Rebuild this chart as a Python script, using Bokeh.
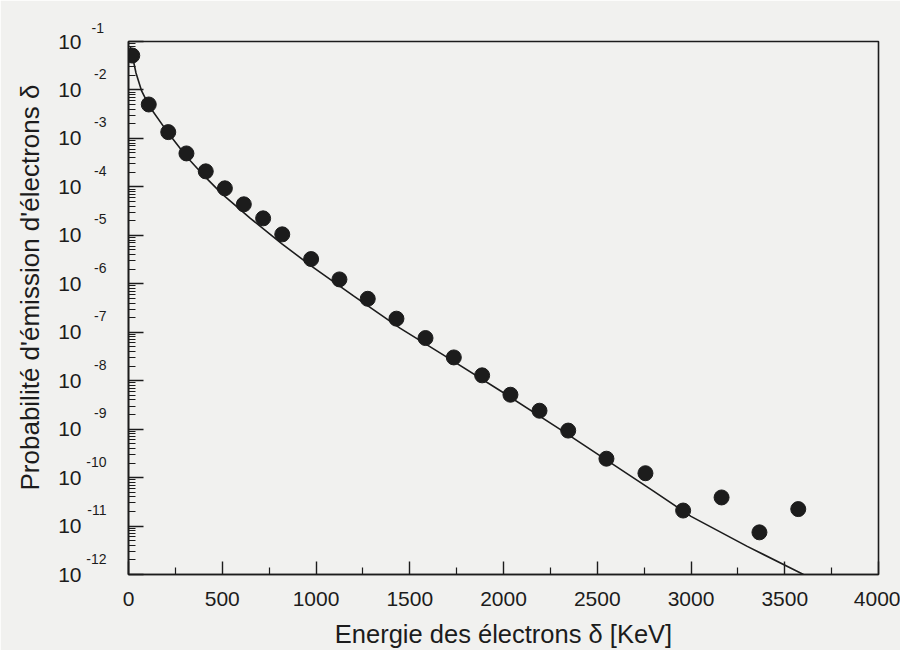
from bokeh.plotting import figure
from bokeh.models import (FixedTicker, CustomJSTickFormatter, LogAxis, Range1d,
                          LogScale, Title)
from bokeh.embed import file_html
from bokeh.resources import INLINE

# ---- data ----
energy_pts = [20, 108, 212, 309, 412, 514, 615, 718, 820, 974, 1125, 1276, 1429,
              1584, 1735, 1886, 2037, 2192, 2345, 2549, 2757, 2958, 3163, 3365, 3572]
log_prob_pts = [-1.29, -2.30, -2.87, -3.31, -3.68, -4.03, -4.36, -4.65, -4.98, -5.49,
                -5.91, -6.31, -6.72, -7.12, -7.52, -7.89, -8.29, -8.62, -9.03, -9.61,
                -9.91, -10.68, -10.41, -11.13, -10.65]

fit_energy = [10, 40, 70, 110, 210, 310, 410, 500, 650, 820, 970, 1200, 1450, 1700,
              2000, 2300, 2550, 2800, 3000, 3300, 3600]
fit_log = [-1.10, -1.65, -2.02, -2.33, -2.88, -3.38, -3.80, -4.15, -4.65, -5.18, -5.62,
           -6.25, -6.92, -7.52, -8.25, -9.00, -9.64, -10.28, -10.80, -11.42, -12.0]

x_major = [0, 500, 1000, 1500, 2000, 2500, 3000, 3500, 4000]
x_minor = [250, 750, 1250, 1750, 2250, 2750, 3250, 3750]
y_exponents = [-12, -11, -10, -9, -8, -7, -6, -5, -4, -3, -2, -1]

x_title = "Energie des électrons δ [KeV]"
y_title = "Probabilité d'émission d'électrons δ"

FONT = "Liberation Sans"
INK = "#1c1c1c"
PAPER = "#f1f1ef"

prob_pts = [10.0 ** v for v in log_prob_pts]
fit_prob = [10.0 ** v for v in fit_log]
y_major = [10.0 ** e for e in y_exponents]
y_minor = [k * 10.0 ** e for e in y_exponents[:-1] for k in range(2, 10)]
y_lo, y_hi = 1e-12, 1e-1

# superscript lift: about a third of a decade on this axis
lift = 10.0 ** 0.33

p = figure(width=900, height=650, x_range=(0, 4000), y_range=(y_lo, y_hi),
           y_axis_type="log", output_backend="svg", toolbar_location=None,
           min_border_left=128, min_border_right=22, min_border_top=41,
           min_border_bottom=76)
p.extra_y_ranges = {"exp": Range1d(y_lo / lift, y_hi / lift)}
p.extra_y_scales = {"exp": LogScale()}
p.background_fill_color = PAPER
p.border_fill_color = PAPER
p.outline_line_color = INK
p.outline_line_width = 1.6
p.xgrid.visible = False
p.ygrid.visible = False

# fitted curve and measured points
p.line(fit_energy, fit_prob, line_color=INK, line_width=1.6)
p.scatter(energy_pts, prob_pts, size=15, fill_color=INK, line_color=INK)

# x axis
xa = p.xaxis[0]
xa.ticker = FixedTicker(ticks=x_major, minor_ticks=x_minor)
xa.major_tick_in = 13
xa.major_tick_out = 0
xa.minor_tick_in = 7
xa.minor_tick_out = 0
xa.axis_line_width = 1.6
xa.axis_line_color = INK
xa.major_tick_line_color = INK
xa.minor_tick_line_color = INK
xa.major_tick_line_width = 1.4
xa.minor_tick_line_width = 1.2
xa.major_label_text_font = FONT
xa.major_label_text_font_size = "21px"
xa.major_label_text_color = INK
xa.major_label_standoff = 17
xa.axis_label = x_title
xa.axis_label_text_font = FONT
xa.axis_label_text_font_size = "25.5px"
xa.axis_label_text_font_style = "normal"
xa.axis_label_text_color = INK
xa.axis_label_standoff = 11

# y axis: ticks only (next to the frame)
ya = p.yaxis[0]
ya.ticker = FixedTicker(ticks=y_major, minor_ticks=y_minor)
ya.formatter = CustomJSTickFormatter(code="return '';")
ya.major_label_standoff = 0
ya.major_tick_in = 15
ya.major_tick_out = 0
ya.minor_tick_in = 7
ya.minor_tick_out = 0
ya.axis_line_width = 1.6
ya.axis_line_color = INK
ya.major_tick_line_color = INK
ya.minor_tick_line_color = INK
ya.major_tick_line_width = 1.4
ya.minor_tick_line_width = 1.0

# exponents (superscripts) of the y tick labels
exp_axis = LogAxis(y_range_name="exp",
                   ticker=FixedTicker(ticks=y_major[:-1], minor_ticks=[]),
                   formatter=CustomJSTickFormatter(
                       code="return String(Math.round(Math.log10(tick)));"),
                   axis_line_color=None, major_tick_line_color=None,
                   minor_tick_line_color=None, major_tick_in=0, major_tick_out=0,
                   minor_tick_in=0, minor_tick_out=0,
                   major_label_standoff=22,
                   major_label_text_font=FONT, major_label_text_font_size="14px",
                   major_label_text_color=INK)
p.add_layout(exp_axis, "left")

# bases "10" of the y tick labels
base_axis = LogAxis(ticker=FixedTicker(ticks=y_major, minor_ticks=[]),
                    formatter=CustomJSTickFormatter(code="return '10';"),
                    axis_line_color=None, major_tick_line_color=None,
                    minor_tick_line_color=None, major_tick_in=0, major_tick_out=0,
                    minor_tick_in=0, minor_tick_out=0,
                    major_label_standoff=2,
                    major_label_text_font=FONT, major_label_text_font_size="21px",
                    major_label_text_color=INK)
p.add_layout(base_axis, "left")

# exponent of the topmost tick label sits above the frame
p.add_layout(Title(text=str(y_exponents[-1]), align="left", offset=-37, standoff=17,
                   text_font=FONT, text_font_size="14px", text_font_style="normal",
                   text_color=INK), "above")

# y title
p.add_layout(Title(text=y_title, align="left", offset=84, standoff=22,
                   text_font=FONT, text_font_size="26px", text_font_style="normal",
                   text_color=INK), "left")

open("out.html", "w").write(file_html(p, INLINE))
